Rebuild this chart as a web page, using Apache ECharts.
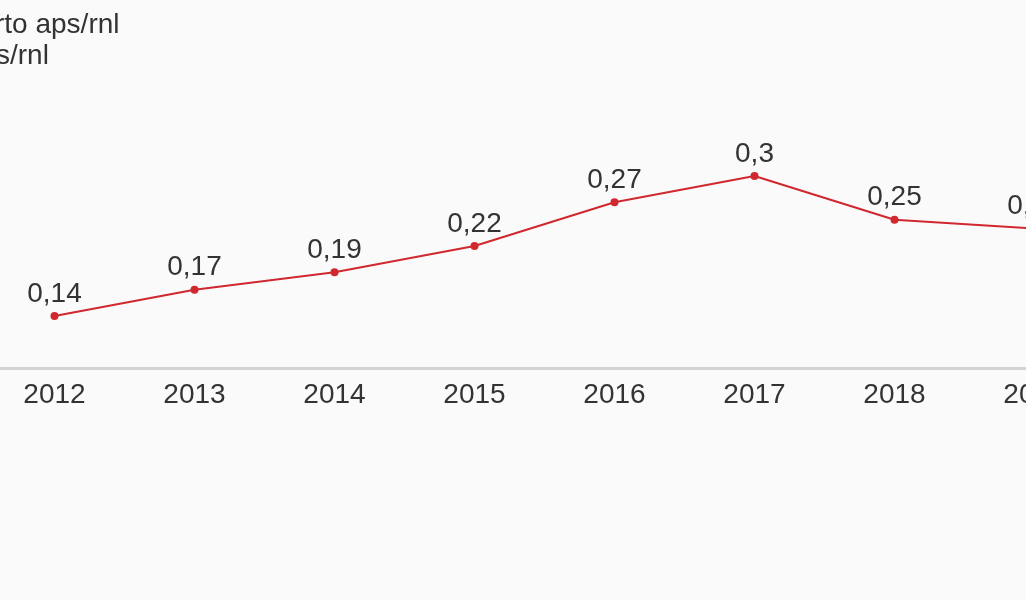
<!DOCTYPE html>
<html>
<head>
<meta charset="utf-8">
<script src="https://cdn.jsdelivr.net/npm/echarts@6/dist/echarts.min.js"></script>
<style>
html,body{margin:0;padding:0;background:#fafafa;}
#c{width:1026px;height:600px;}
</style>
</head>
<body>
<div id="c"></div>
<script>
const titleLines = ["rto aps/rnl", "s/rnl"];
const categories = ["2012", "2013", "2014", "2015", "2016", "2017", "2018", "2019"];
const values = [0.14, 0.17, 0.19, 0.22, 0.27, 0.3, 0.25, 0.24];

const chart = echarts.init(document.getElementById('c'));
chart.setOption({
  backgroundColor: '#fafafa',
  animation: false,
  title: [
    { text: titleLines[0], left: -10, top: 6, textStyle: { fontFamily: 'Liberation Sans', fontSize: 28, fontWeight: 'normal', color: '#333' } },
    { text: titleLines[1], left: -9, top: 37, textStyle: { fontFamily: 'Liberation Sans', fontSize: 28, fontWeight: 'normal', color: '#333' } }
  ],
  grid: { left: -15.5, width: 1120, top: 123.5, height: 245, containLabel: false, outerBoundsMode: 'none' },
  xAxis: {
    type: 'category',
    data: categories,
    boundaryGap: true,
    axisTick: { show: false },
    axisLine: { lineStyle: { color: '#d3d3d3', width: 3 } },
    axisLabel: { fontFamily: 'Liberation Sans', fontSize: 28, color: '#333', margin: 13 }
  },
  yAxis: { type: 'value', show: false, min: 0.08, max: 0.36, splitLine: { show: false } },
  series: [{
    type: 'line',
    data: values,
    symbol: 'circle',
    symbolSize: 8,
    itemStyle: { color: '#d0282e' },
    lineStyle: { color: '#d0282e', width: 2 },
    label: {
      show: true,
      position: 'top',
      distance: 4,
      fontFamily: 'Liberation Sans',
      fontSize: 28,
      color: '#333',
      formatter: p => String(p.value).replace('.', ',')
    }
  }]
});
</script>
</body>
</html>
